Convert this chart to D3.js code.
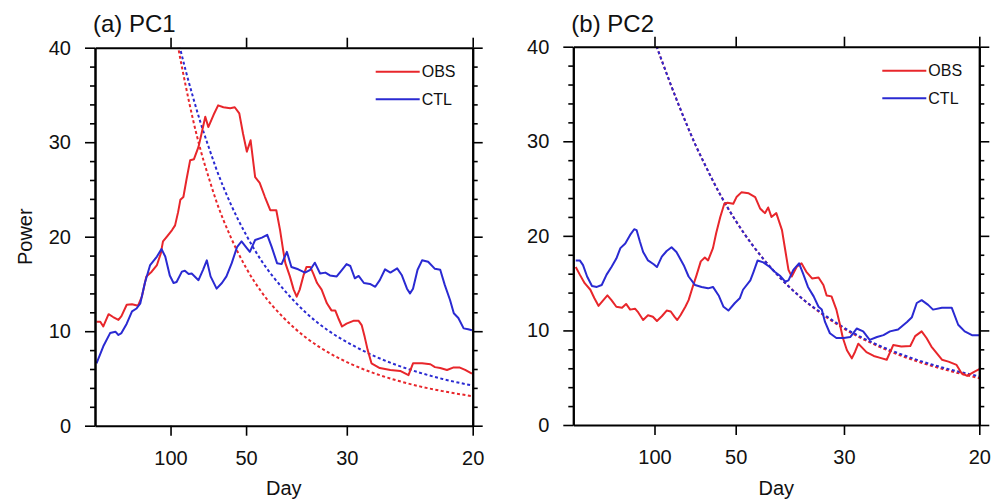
<!DOCTYPE html>
<html>
<head>
<meta charset="utf-8">
<script src="https://cdn.jsdelivr.net/npm/d3@7"></script>
<style>
  body { margin: 0; background: #fff; }
  svg { display: block; font-family: "Liberation Sans", Arial, Helvetica, sans-serif; }
</style>
</head>
<body>
<svg id="chart" width="1003" height="503"></svg>
<script>
// x is frequency (cycles/day), labelled in days
const dayTicks = [100, 50, 30, 20];
const powerTicks = [0, 10, 20, 30, 40];
const seriesNames = ["OBS", "CTL"];

// (a) PC1, [frequency, power]
const obsA = [
  [0.0002, 11.0], [0.0007, 11.0], [0.0011, 10.5], [0.0018, 11.8], [0.0024, 11.5], [0.0031, 11.2],
  [0.0035, 11.6], [0.0042, 12.8], [0.0049, 12.85], [0.0057, 12.7], [0.0062, 13.65], [0.0068, 15.8],
  [0.0075, 16.3], [0.0082, 17.0], [0.0087, 18.2], [0.0090, 19.5], [0.0096, 20.1], [0.0102, 20.7],
  [0.0106, 21.2], [0.0110, 22.6], [0.0113, 23.9], [0.0117, 24.2], [0.0121, 26.0], [0.0126, 28.1],
  [0.0131, 28.2], [0.0137, 29.5], [0.0141, 30.9], [0.0146, 32.7], [0.0150, 31.6], [0.0157, 32.9],
  [0.0163, 33.9], [0.0170, 33.7], [0.0179, 33.6], [0.0185, 33.7], [0.0191, 33.05], [0.0196, 30.9],
  [0.0201, 29.0], [0.0206, 30.2], [0.0212, 26.3], [0.0218, 25.7], [0.0225, 24.2], [0.0232, 22.8],
  [0.0240, 22.8], [0.0245, 20.7], [0.0249, 18.6], [0.0252, 17.2], [0.0258, 15.8], [0.0263, 14.4],
  [0.0267, 13.65], [0.0271, 14.4], [0.0276, 15.9], [0.0280, 16.8], [0.0285, 16.8], [0.0289, 16.1],
  [0.0294, 15.1], [0.0300, 14.4], [0.0307, 12.95], [0.0313, 12.2], [0.0318, 12.2], [0.0322, 11.4],
  [0.0327, 10.5], [0.0333, 10.8], [0.0342, 11.1], [0.0349, 11.1], [0.0353, 10.65], [0.0357, 9.4],
  [0.0361, 8.0], [0.0366, 6.6], [0.0377, 6.1], [0.0391, 5.9], [0.0404, 5.8], [0.0415, 5.35],
  [0.0421, 6.6], [0.0433, 6.6], [0.0444, 6.5], [0.0450, 6.2], [0.0457, 6.1], [0.0466, 5.9],
  [0.0474, 6.15], [0.0483, 6.15], [0.0490, 5.9], [0.0499, 5.5]
];
const ctlA = [
  [0.0002, 6.6], [0.0011, 8.4], [0.0020, 9.8], [0.0027, 9.95], [0.0031, 9.6], [0.0035, 9.8],
  [0.0042, 10.8], [0.0049, 12.1], [0.0055, 12.4], [0.0060, 12.95], [0.0066, 15.1], [0.0073, 17.0],
  [0.0082, 17.9], [0.0088, 18.7], [0.0093, 17.9], [0.0099, 15.9], [0.0104, 15.1], [0.0108, 15.2],
  [0.0115, 16.3], [0.0119, 16.4], [0.0124, 16.05], [0.0128, 16.1], [0.0137, 15.4], [0.0143, 16.5],
  [0.0148, 17.5], [0.0153, 15.8], [0.0161, 14.5], [0.0168, 15.1], [0.0174, 15.8], [0.0181, 17.2],
  [0.0188, 18.9], [0.0194, 19.5], [0.0201, 18.8], [0.0205, 18.4], [0.0212, 19.65], [0.0221, 19.9],
  [0.0228, 20.2], [0.0234, 18.9], [0.0241, 17.2], [0.0247, 17.1], [0.0254, 18.4], [0.0260, 16.8],
  [0.0269, 16.55], [0.0278, 16.2], [0.0285, 16.5], [0.0291, 17.25], [0.0298, 16.1], [0.0305, 16.2],
  [0.0311, 15.9], [0.0320, 15.8], [0.0327, 16.5], [0.0333, 17.1], [0.0338, 16.9], [0.0344, 15.6],
  [0.0349, 15.85], [0.0356, 15.1], [0.0364, 15.0], [0.0371, 14.7], [0.0377, 15.4], [0.0384, 16.55],
  [0.0391, 16.2], [0.0400, 16.65], [0.0406, 15.95], [0.0413, 14.5], [0.0417, 14.0], [0.0421, 14.5],
  [0.0427, 16.5], [0.0433, 17.5], [0.0441, 17.35], [0.0450, 16.6], [0.0457, 16.5], [0.0463, 14.9],
  [0.0470, 13.3], [0.0475, 11.9], [0.0481, 11.4], [0.0488, 10.3], [0.0494, 10.2], [0.0499, 10.1]
];

// (b) PC2, [frequency, power]
const obsB = [
  [0.0003, 16.7], [0.0008, 15.9], [0.0014, 15.0], [0.0021, 14.3], [0.0026, 13.4], [0.0031, 12.6],
  [0.0037, 13.2], [0.0042, 13.7], [0.0047, 13.2], [0.0053, 12.5], [0.0060, 12.4], [0.0065, 12.8],
  [0.0070, 12.2], [0.0076, 12.3], [0.0080, 11.9], [0.0086, 11.1], [0.0092, 11.6], [0.0098, 11.45],
  [0.0103, 11.0], [0.0109, 11.5], [0.0115, 12.1], [0.0120, 12.0], [0.0125, 11.4], [0.0128, 11.1],
  [0.0132, 11.6], [0.0138, 12.5], [0.0142, 13.2], [0.0147, 14.6], [0.0152, 15.9], [0.0157, 17.3],
  [0.0162, 17.7], [0.0166, 17.4], [0.0172, 18.7], [0.0176, 20.3], [0.0181, 22.0], [0.0186, 23.4],
  [0.0190, 23.5], [0.0197, 23.4], [0.0201, 24.1], [0.0207, 24.6], [0.0216, 24.5], [0.0224, 24.1],
  [0.0230, 22.9], [0.0236, 22.4], [0.0240, 23.0], [0.0244, 22.0], [0.0250, 22.4], [0.0257, 20.6],
  [0.0261, 18.5], [0.0265, 16.4], [0.0269, 15.7], [0.0275, 16.7], [0.0281, 17.1], [0.0287, 16.2],
  [0.0294, 15.5], [0.0302, 15.6], [0.0308, 14.8], [0.0312, 13.7], [0.0318, 13.6], [0.0324, 12.2],
  [0.0328, 10.75], [0.0332, 9.2], [0.0337, 7.9], [0.0343, 7.05], [0.0347, 7.75], [0.0351, 8.6],
  [0.0361, 7.7], [0.0370, 7.3], [0.0378, 7.1], [0.0386, 6.9], [0.0394, 8.45], [0.0404, 8.3],
  [0.0415, 8.35], [0.0421, 9.4], [0.0429, 9.9], [0.0435, 9.2], [0.0441, 8.3], [0.0454, 6.9],
  [0.0462, 6.7], [0.0472, 6.35], [0.0478, 5.5], [0.0485, 5.2], [0.0493, 5.6], [0.0500, 5.9]
];
const ctlB = [
  [0.0003, 17.4], [0.0008, 17.4], [0.0012, 16.9], [0.0017, 15.7], [0.0023, 14.7], [0.0029, 14.6],
  [0.0035, 14.8], [0.0041, 15.9], [0.0047, 16.7], [0.0053, 17.6], [0.0058, 18.7], [0.0064, 19.2],
  [0.0070, 20.1], [0.0075, 20.7], [0.0078, 20.6], [0.0082, 19.4], [0.0086, 18.3], [0.0092, 17.4],
  [0.0099, 17.0], [0.0103, 16.7], [0.0109, 17.8], [0.0115, 18.4], [0.0121, 18.8], [0.0127, 18.3],
  [0.0136, 16.9], [0.0142, 15.7], [0.0150, 14.8], [0.0158, 14.6], [0.0166, 14.45], [0.0172, 14.6],
  [0.0179, 13.7], [0.0185, 12.5], [0.0191, 12.1], [0.0199, 12.9], [0.0205, 13.4], [0.0209, 14.3],
  [0.0218, 15.3], [0.0222, 16.2], [0.0227, 17.4], [0.0234, 17.2], [0.0242, 16.7], [0.0248, 16.2],
  [0.0255, 15.75], [0.0261, 15.15], [0.0265, 15.3], [0.0271, 16.4], [0.0278, 17.1], [0.0283, 16.0],
  [0.0289, 14.6], [0.0296, 13.6], [0.0302, 12.5], [0.0306, 12.2], [0.0310, 10.9], [0.0316, 9.7],
  [0.0324, 9.2], [0.0333, 9.2], [0.0341, 9.3], [0.0349, 10.2], [0.0357, 9.9], [0.0365, 9.0],
  [0.0374, 9.3], [0.0382, 9.5], [0.0390, 9.9], [0.0400, 10.1], [0.0411, 10.9], [0.0417, 11.4],
  [0.0423, 12.9], [0.0429, 13.2], [0.0437, 12.7], [0.0443, 12.2], [0.0454, 12.4], [0.0466, 12.4],
  [0.0474, 10.6], [0.0482, 9.9], [0.0491, 9.5], [0.0500, 9.5]
];

// red-noise reference curves (dashed), read at these frequencies
const noiseFreq = [0.010, 0.011, 0.012, 0.013, 0.014, 0.015, 0.016, 0.018, 0.020, 0.022,
                   0.025, 0.028, 0.031, 0.034, 0.037, 0.040, 0.043, 0.046, 0.050];
const noiseObsA = [44.9, 40.1, 36.0, 32.3, 29.1, 26.4, 23.9, 19.9, 16.7, 14.2, 11.4, 9.28, 7.70, 6.49, 5.54, 4.78, 4.16, 3.66, 3.12];
const noiseCtlA = [44.2, 40.8, 37.6, 34.7, 32.0, 29.6, 27.3, 23.4, 20.2, 17.5, 14.4, 11.9, 10.0, 8.56, 7.36, 6.40, 5.61, 4.95, 4.24];
const noiseObsB = [40.6, 38.3, 36.0, 33.8, 31.7, 29.7, 27.9, 24.5, 21.6, 19.1, 16.0, 13.5, 11.5, 9.85, 8.55, 7.45, 6.55, 5.80, 4.95];
const noiseCtlB = [40.6, 38.3, 36.0, 33.8, 31.7, 29.7, 27.9, 24.5, 21.6, 19.1, 16.0, 13.5, 11.6, 9.96, 8.65, 7.60, 6.70, 5.95, 5.15];

const colours = { OBS: "#e8262b", CTL: "#2a2ad2" };

const panels = [
  { title: "(a) PC1", obs: obsA, ctl: ctlA, nObs: noiseObsA, nCtl: noiseCtlA,
    left: 95, right: 472.7, top: 47.7, bottom: 425.7, yTitle: "Power" },
  { title: "(b) PC2", obs: obsB, ctl: ctlB, nObs: noiseObsB, nCtl: noiseCtlB,
    left: 573.3, right: 979.3, top: 46.7, bottom: 425, yTitle: null }
];

const svg = d3.select("#chart");

panels.forEach((p, i) => {
  const width = p.right - p.left,
      height = p.bottom - p.top,
      g = svg.append("g").attr("transform", `translate(${p.left},${p.top})`);

  const x = d3.scaleLinear().domain([0, 0.05]).range([0, width]);
  const y = d3.scaleLinear().domain([0, 40]).range([height, 0]);

  g.append("clipPath")
    .attr("id", "clip" + i)
    .append("rect")
    .attr("width", width)
    .attr("height", height);

  const plot = g.append("g").attr("clip-path", `url(#clip${i})`);

  const line = d3.line().x(d => x(d[0])).y(d => y(d[1]));
  const smooth = d3.line().x(d => x(d[0])).y(d => y(d[1])).curve(d3.curveMonotoneX);

  // dashed red-noise spectra
  [[p.nObs, "OBS"], [p.nCtl, "CTL"]].forEach(([vals, name]) => {
    plot.append("path")
      .datum(noiseFreq.map((f, k) => [f, vals[k]]))
      .attr("d", smooth)
      .attr("fill", "none")
      .attr("stroke", colours[name])
      .attr("stroke-width", 2)
      .attr("stroke-dasharray", "3,2.5");
  });

  // spectra
  [[p.obs, "OBS"], [p.ctl, "CTL"]].forEach(([data, name]) => {
    plot.append("path")
      .datum(data)
      .attr("d", line)
      .attr("fill", "none")
      .attr("stroke", colours[name])
      .attr("stroke-width", 2)
      .attr("stroke-linejoin", "round");
  });

  // frame with outward ticks on all sides
  const fTicks = dayTicks.map(d => 1 / d);
  const minor = d3.range(0, 41, 2).filter(v => v % 10 !== 0);

  g.append("g").attr("transform", `translate(0,${height})`)
    .call(d3.axisBottom(x).tickValues(fTicks).tickFormat((d, k) => dayTicks[k]).tickSize(10).tickPadding(15).tickSizeOuter(0));
  g.append("g")
    .call(d3.axisTop(x).tickValues(fTicks).tickFormat("").tickSize(10).tickSizeOuter(0));
  g.append("g")
    .call(d3.axisLeft(y).tickValues(powerTicks).tickFormat(d3.format("d")).tickSize(10).tickPadding(14).tickSizeOuter(0));
  g.append("g").attr("transform", `translate(${width},0)`)
    .call(d3.axisRight(y).tickValues(powerTicks).tickFormat("").tickSize(10).tickSizeOuter(0));
  g.append("g").call(d3.axisLeft(y).tickValues(minor).tickFormat("").tickSize(5).tickSizeOuter(0));
  g.append("g").attr("transform", `translate(${width},0)`)
    .call(d3.axisRight(y).tickValues(minor).tickFormat("").tickSize(5).tickSizeOuter(0));

  g.selectAll(".domain").attr("stroke", "#000").attr("stroke-width", 2);
  g.selectAll(".tick line").attr("stroke", "#000").attr("stroke-width", 1.6);
  g.selectAll(".tick text").attr("fill", "#111").style("font-size", "20px")
    .style("font-family", "'Liberation Sans', Arial, sans-serif");

  // title
  svg.append("text")
    .attr("x", p.left - 2)
    .attr("y", 32)
    .style("font-size", "24px")
    .attr("fill", "#111")
    .text(p.title);

  // x label
  svg.append("text")
    .attr("x", p.left + width / 2)
    .attr("y", 495)
    .style("text-anchor", "middle")
    .style("font-size", "20px")
    .attr("fill", "#111")
    .text("Day");

  if (p.yTitle) {
    svg.append("text")
      .attr("transform", "rotate(-90)")
      .attr("x", -(p.top + height / 2))
      .attr("y", 32)
      .style("text-anchor", "middle")
      .style("font-size", "20px")
      .attr("fill", "#111")
      .text(p.yTitle);
  }

  // legend
  seriesNames.forEach((name, k) => {
    const ly = 24 + k * 27.5,
        lx = width - 97;
    g.append("line")
      .attr("x1", lx).attr("x2", lx + 44)
      .attr("y1", ly).attr("y2", ly)
      .attr("stroke", colours[name])
      .attr("stroke-width", 2);
    g.append("text")
      .attr("x", lx + 46)
      .attr("y", ly)
      .attr("dy", "0.36em")
      .style("font-size", "16px")
      .attr("fill", "#111")
      .text(name);
  });
});
</script>
</body>
</html>
